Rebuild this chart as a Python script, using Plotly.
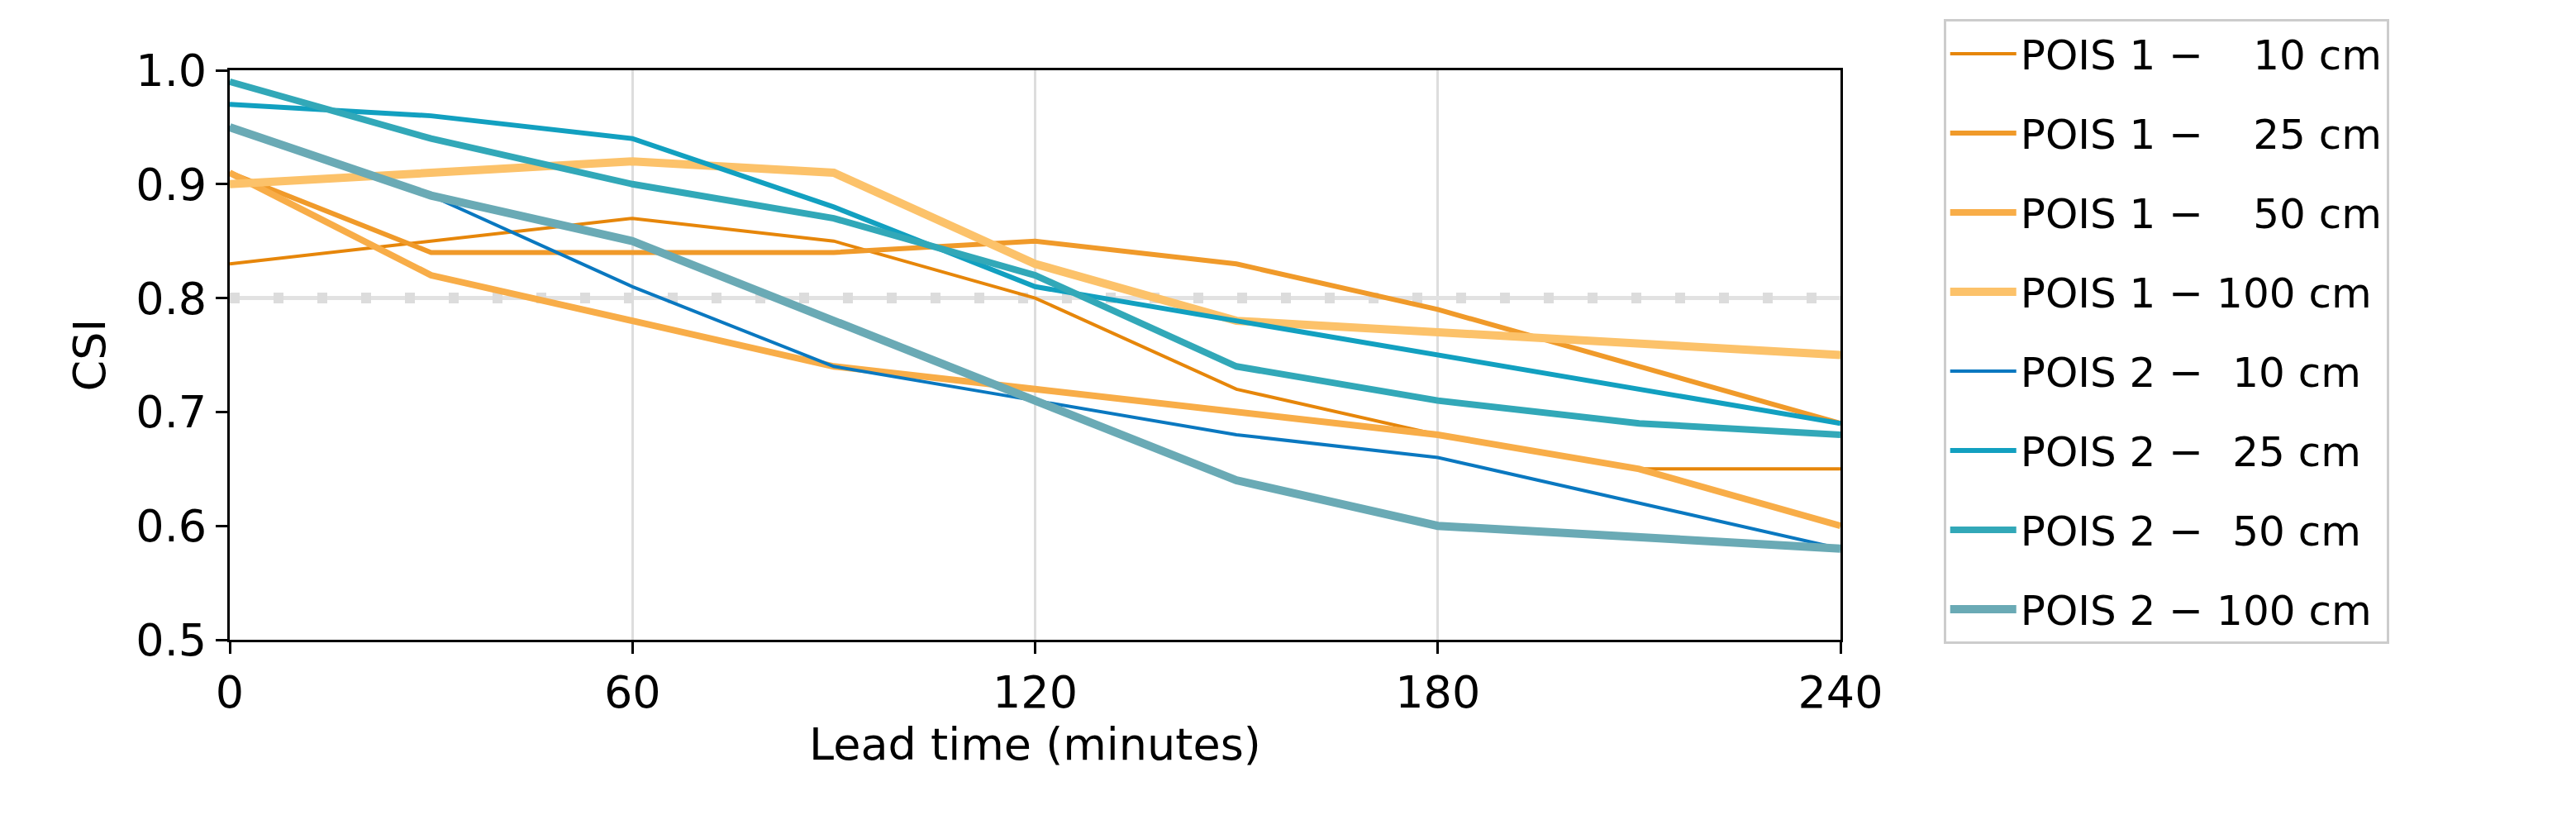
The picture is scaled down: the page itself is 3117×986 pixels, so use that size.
import plotly.graph_objects as go

lead = [0, 30, 60, 90, 120, 150, 180, 210, 240]
names = ["POIS 1 \u2212\u2002\u2002\u200910 cm", "POIS 1 \u2212\u2002\u2002\u200925 cm",
         "POIS 1 \u2212\u2002\u2002\u200950 cm", "POIS 1 \u2212 100 cm",
         "POIS 2 \u2212\u2002\u200910 cm", "POIS 2 \u2212\u2002\u200925 cm",
         "POIS 2 \u2212\u2002\u200950 cm", "POIS 2 \u2212 100 cm"]
p1_10 = [0.83, 0.85, 0.87, 0.85, 0.80, 0.72, 0.68, 0.65, 0.65]
p1_25 = [0.91, 0.84, 0.84, 0.84, 0.85, 0.83, 0.79, 0.74, 0.69]
p1_50 = [0.91, 0.82, 0.78, 0.74, 0.72, 0.70, 0.68, 0.65, 0.60]
p1_100 = [0.90, 0.91, 0.92, 0.91, 0.83, 0.78, 0.77, 0.76, 0.75]
p2_10 = [0.95, 0.89, 0.81, 0.74, 0.71, 0.68, 0.66, 0.62, 0.58]
p2_25 = [0.97, 0.96, 0.94, 0.88, 0.81, 0.78, 0.75, 0.72, 0.69]
p2_50 = [0.99, 0.94, 0.90, 0.87, 0.82, 0.74, 0.71, 0.69, 0.68]
p2_100 = [0.95, 0.89, 0.85, 0.78, 0.71, 0.64, 0.60, 0.59, 0.58]
threshold = 0.8

series = [p1_10, p1_25, p1_50, p1_100, p2_10, p2_25, p2_50, p2_100]
colors = ["#e6860a", "#f09a2a", "#f8ad48", "#fcc26a",
          "#0a78c0", "#12a0c0", "#32a8b8", "#6aaab5"]
widths = [4, 6, 8, 10, 4, 6, 8, 10]

fig = go.Figure()
fig.add_trace(go.Scatter(x=[0, 240], y=[threshold, threshold], mode="lines",
                         line=dict(color="#e2e2e2", width=5), showlegend=False, hoverinfo="skip"))
fig.add_trace(go.Scatter(x=[0, 240], y=[threshold, threshold], mode="lines",
                         line=dict(color="#dcdcdc", width=13, dash="12px,41px"),
                         showlegend=False, hoverinfo="skip"))
for i, (n, s, c, w) in enumerate(zip(names, series, colors, widths)):
    fig.add_trace(go.Scatter(x=lead, y=s, mode="lines", name=n, legendgroup=f"g{i}",
                             line=dict(color=c, width=w)))

ax = dict(showline=True, linecolor="black", linewidth=3, mirror=True, ticks="outside",
          ticklen=14, tickwidth=3, tickcolor="black", zeroline=False,
          tickfont=dict(size=54, color="black", family="DejaVu Sans"))
fig.update_layout(
    width=3117, height=986, plot_bgcolor="white", paper_bgcolor="white",
    margin=dict(l=270, r=898, t=77, b=220),
    font=dict(family="DejaVu Sans", color="black"),
    xaxis=dict(**ax, range=[0, 240], tickvals=[0, 60, 120, 180, 240], showgrid=True,
               gridcolor="#dddddd", gridwidth=3,
               title=dict(text="Lead time (minutes)", font=dict(size=54), standoff=10)),
    yaxis=dict(**ax, range=[0.5, 1.0], dtick=0.1, tickformat=".1f", showgrid=False,
               title=dict(text="CSI", font=dict(size=54), standoff=20)),
    legend=dict(x=1.064, y=1.09, xanchor="left", yanchor="top", font=dict(size=50),
                bordercolor="#cccccc", borderwidth=3, tracegroupgap=28, itemwidth=80,
                maxheight=960),
)
fig.write_html("out.html")
